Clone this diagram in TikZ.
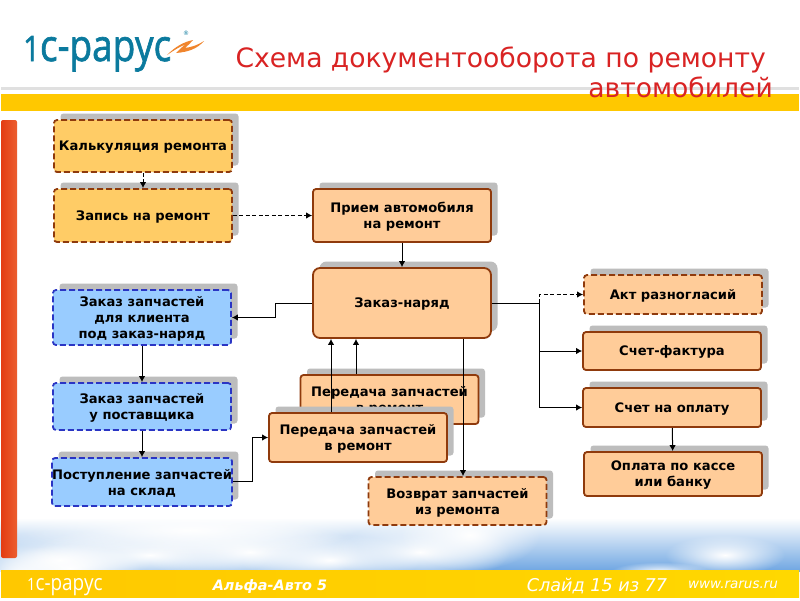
\documentclass[tikz,border=0pt]{standalone}
\usepackage{fontspec}
\setmainfont{DejaVu Sans}
\newfontfamily\logofont{Open Sans}
\newfontfamily\logoheavy[FakeBold=1.6]{Open Sans}
\usetikzlibrary{arrows.meta}
\usetikzlibrary{positioning}
\usetikzlibrary{calc}
\usetikzlibrary{shadows}
\usetikzlibrary{fadings}
\definecolor{rarusred}{HTML}{D92323}
\definecolor{bandyellow}{HTML}{FFC800}
\definecolor{footyellow}{HTML}{FFD800}
\definecolor{boxorange}{HTML}{FFCC66}
\definecolor{boxpeach}{HTML}{FFCC99}
\definecolor{boxblue}{HTML}{99CCFF}
\definecolor{edgebrown}{HTML}{8F3A0C}
\definecolor{edgeblue}{HTML}{2A35C4}
\definecolor{shadowgray}{HTML}{BDBDBD}
\definecolor{skyblue}{HTML}{6FA6E2}
\definecolor{logoteal}{HTML}{0B7A9E}
\definecolor{logoorange}{HTML}{F0852D}
\definecolor{barleft}{HTML}{E33C12}
\definecolor{barright}{HTML}{EC5E30}
\tikzset{
	docbox/.style={draw=edgebrown, line width=1.8pt, rounded corners=3pt, inner sep=0pt, align=center, text depth=0pt,
		font=\fontsize{13.1}{16}\selectfont\bfseries,
		drop shadow={shadow xshift=6.5pt, shadow yshift=6.5pt, fill=shadowgray, opacity=1}},
	peachbox/.style={docbox, fill=boxpeach},
	orangebox/.style={docbox, fill=boxorange, dashed, dash pattern=on 6pt off 3pt},
	bluebox/.style={docbox, fill=boxblue, draw=edgeblue, dashed, dash pattern=on 6pt off 3pt},
	peachdash/.style={docbox, fill=boxpeach, dashed, dash pattern=on 6pt off 3pt},
	link/.style={-{Latex[length=6pt,width=6.5pt]}, line width=1pt},
	dashlink/.style={link, dashed, dash pattern=on 4pt off 2.5pt},
	cloud/.style={fill=white, path fading=fuzzycloud}
}
\tikzfading[name=fuzzycloud, inner color=transparent!0, outer color=transparent!100]
\begin{document}
\begin{tikzpicture}[x=1pt,y=-1pt]
	\useasboundingbox (0,0) rectangle (800,600);
	%draw background
	\fill[white] (0,0) rectangle (800,600);
	\shade[top color=white, bottom color=skyblue] (0,518) rectangle (800,571);
	\foreach \cx/\cy/\rx/\ry in {70/568/70/24, 60/560/90/30, 150/555/120/30, 250/552/110/32, 330/560/90/26, 420/552/90/30, 470/535/70/35, 190/530/170/25, 725/555/60/20, 660/572/50/10, 20/575/70/30}
		\fill[cloud] (\cx,\cy) ellipse ({\rx} and {\ry});
	%draw bands
	\fill[black!12] (1,87) rectangle (799,90);
	\fill[bandyellow] (1,94) rectangle (799,111);
	\shade[left color=bandyellow, right color=footyellow] (1,570) rectangle (799,598);
	\fill[white] (0,598) rectangle (800,600);
	\shade[left color=barleft, right color=barright, rounded corners=2pt] (1,120) rectangle (17,558);
	%draw logo
	\node[anchor=base west, inner sep=0pt, font=\fontsize{44}{44}\logoheavy, text=logoteal, xscale=0.84] (logo) at (23,61) {{\fontsize{35}{35}\selectfont 1}с-рарус};
	\fill[logoorange] (167,55) .. controls (176,46) and (184,42) .. (193,40) .. controls (191,43) and (188,45) .. (185,48) .. controls (192,47) and (198,45) .. (204,41) .. controls (197,49) and (188,52) .. (176,53) .. controls (180,49) and (183,46) .. (186,44) .. controls (179,47) and (173,51) .. (167,55) -- cycle;
	\node[inner sep=0pt, font=\fontsize{6}{6}\selectfont, text=logoteal] (regmark) at (186,33) {®};
	%draw title
	\node[anchor=north east, inner sep=0pt, align=right, text=rarusred, font=\fontsize{26.6}{30}\selectfont] (title) at (773,47) {Схема документооборота по ремонту\hspace*{7pt}\\автомобилей};
	%draw footer
	\node[anchor=base west, inner sep=0pt, text=white, font=\fontsize{22}{22}\logofont, xscale=0.86] (logofoot) at (27,590) {{\fontsize{17}{17}\selectfont 1}с-рарус};
	\node[inner sep=0pt, text=white, font=\fontsize{14.4}{14}\selectfont\bfseries\itshape] (product) at (270,587) {Альфа-Авто 5};
	\node[inner sep=0pt, text=white, font=\fontsize{17.6}{18}\selectfont\itshape] (slide) at (597,586) {Слайд 15 из 77};
	\node[inner sep=0pt, text=white, font=\fontsize{13.5}{14}\selectfont\itshape] (site) at (733,585) {www.rarus.ru};
	%left column
	\node[orangebox, minimum width=178pt, minimum height=52pt] (kalk) at (143,146) {Калькуляция ремонта};
	\node[orangebox, minimum width=178pt, minimum height=53pt] (zapis) at (143,215.5) {Запись на ремонт};
	\node[bluebox, minimum width=178pt, minimum height=55pt] (zakazkl) at (142,317.5) {Заказ запчастей\\для клиента\\под заказ-наряд};
	\node[bluebox, minimum width=178pt, minimum height=47pt] (zakazpost) at (142,406.5) {Заказ запчастей\\у поставщика};
	\node[bluebox, minimum width=178pt, minimum height=48pt] (postup) at (142,482) {Поступление запчастей\\на склад};
	%middle column
	\node[peachbox, minimum width=178pt, minimum height=53pt] (priem) at (402,215.5) {Прием автомобиля\\на ремонт};
	\node[peachbox, minimum width=178pt, minimum height=70pt, rounded corners=7pt] (naryad) at (402,303) {Заказ-наряд};
	\node[peachbox, minimum width=178pt, minimum height=49pt] (peredback) at (389.5,399.5) {Передача запчастей\\в ремонт};
	\node[peachbox, minimum width=178pt, minimum height=49pt] (peredfront) at (358,437.5) {Передача запчастей\\в ремонт};
	\node[peachdash, minimum width=178pt, minimum height=48pt] (vozvrat) at (457.5,501) {Возврат запчастей\\из ремонта};
	%right column
	\node[peachdash, minimum width=178pt, minimum height=39pt] (akt) at (673,294.5) {Акт разногласий};
	\node[peachbox, minimum width=178pt, minimum height=38pt] (schetf) at (672,351) {Счет-фактура};
	\node[peachbox, minimum width=178pt, minimum height=39pt] (schetopl) at (672,407.5) {Счет на оплату};
	\node[peachbox, minimum width=178pt, minimum height=44pt] (oplata) at (673,474) {Оплата по кассе\\или банку};
	%add connectors
	\draw[dashlink] (kalk) -- (zapis);
	\draw[dashlink] (zapis) -- (priem);
	\draw[link] (priem) -- (naryad);
	\draw[link] (zakazkl) -- (zakazpost);
	\draw[link] (zakazpost) -- (postup);
	\coordinate (jointleft) at (275,303);
	\draw[link] (naryad.west) -- (jointleft) |- (zakazkl.east);
	\coordinate (jointpost) at (252,481);
	\draw[link] (postup.east |- jointpost) -- (jointpost) |- (peredfront.west);
	\draw[link] ([xshift=-27pt]peredfront.north) -- ([xshift=-27pt]peredfront.north |- naryad.south);
	\draw[link] ([xshift=-33.5pt]peredback.north) -- ([xshift=-33.5pt]peredback.north |- naryad.south);
	\draw[link] ([xshift=61pt]naryad.south) -- ([xshift=61pt]naryad.south |- vozvrat.north);
	\coordinate (jointright) at (539,303);
	\draw[line width=1pt] (naryad.east) -- (jointright);
	\draw[dashlink] (jointright) |- (akt.west);
	\draw[link] (jointright) |- (schetf.west);
	\draw[link] (jointright) |- (schetopl.west);
	\draw[link] (schetopl) -- (oplata);
\end{tikzpicture}
\end{document}
